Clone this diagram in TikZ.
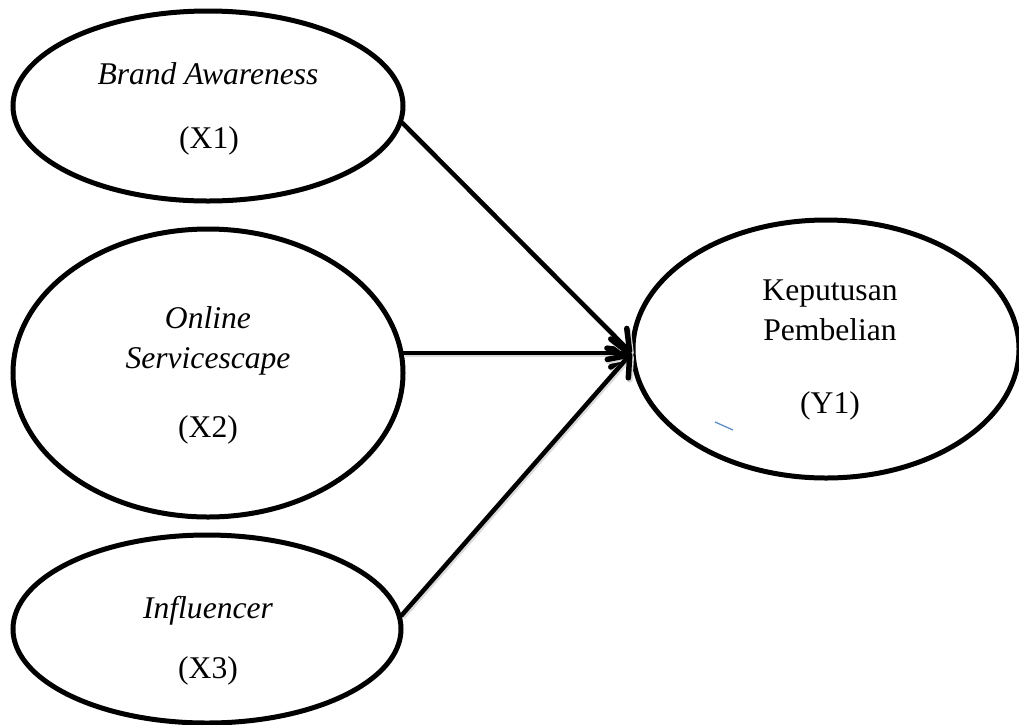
\documentclass[tikz,border=0pt]{standalone}
\usepackage{fontspec}
\setmainfont{Liberation Serif}
\usetikzlibrary{shapes.geometric,arrows.meta}
\definecolor{tickblue}{RGB}{91,140,200}
\begin{document}
\begin{tikzpicture}[x=1pt,y=-1pt,
  oval/.style={ellipse, draw=black, line width=5pt, inner sep=0pt},
  txt/.style={font=\fontsize{31.6}{38}\selectfont, inner sep=0pt, anchor=base},
  itx/.style={txt, font=\fontsize{31.6}{38}\selectfont\itshape},
  arr/.style={line width=4.5pt, line cap=round,
    -{Straight Barb[length=18pt,width=28pt,line width=5.5pt,round]},
    preaction={draw=black!14, line width=4.5pt,
      transform canvas={shift={(1.5pt,-2pt)}}}}
]
\useasboundingbox (0,0) rectangle (1019,724);

% ellipses
\node[oval, minimum width=390pt, minimum height=190pt] (e1) at (208,106) {};
\node[oval, minimum width=390pt, minimum height=288pt] (e2) at (208,373) {};
\node[oval, minimum width=388pt, minimum height=188pt] (e3) at (207,629) {};
\node[oval, minimum width=386pt, minimum height=258pt] (y)  at (826,349) {};

% texts
\node[itx] (t1a) at (208,84) {Brand Awareness};
\node[txt] (t1b) at (209,148) {(X1)};
\node[itx] (t2a) at (208,328) {Online};
\node[itx] (t2b) at (208,368) {Servicescape};
\node[txt] (t2c) at (208,437) {(X2)};
\node[itx] (t3a) at (208,618) {Influencer};
\node[txt] (t3b) at (208,678) {(X3)};
\node[txt] (tya) at (830,300) {Keputusan};
\node[txt] (tyb) at (830,340) {Pembelian};
\node[txt] (tyc) at (830,413) {(Y1)};

% connectors
\coordinate (tip) at ([xshift=1pt,yshift=-4pt]y.west);
\draw[arr] (e1.-5) -- (tip);
\draw[arr] ([xshift=-3pt]e2.east |- tip) -- (tip);
\draw[arr] (e3.4) -- (tip);

% small blue stroke
\coordinate (b1) at (715,422);
\coordinate (b2) at (733,430);
\draw[tickblue, line width=1.3pt] (b1) -- (b2);
\end{tikzpicture}
\end{document}
